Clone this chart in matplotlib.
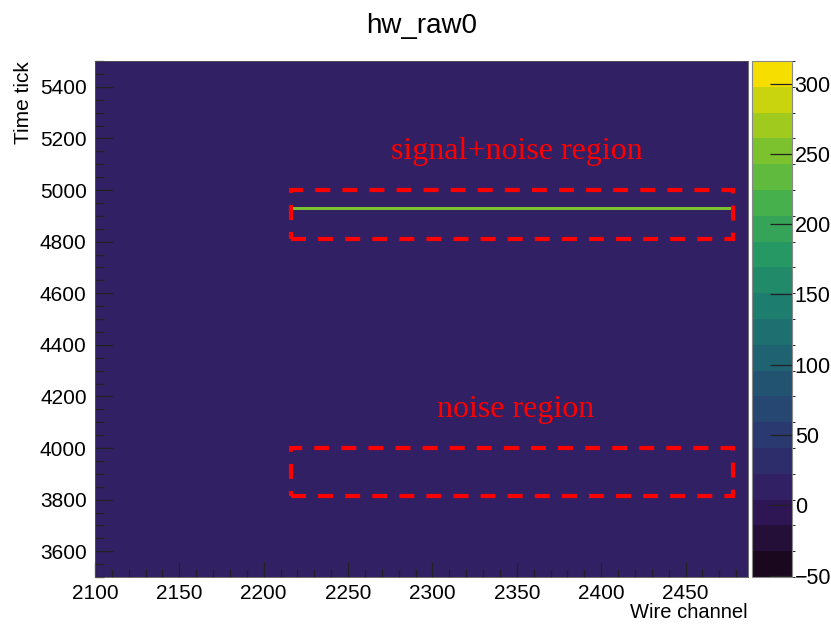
import numpy as np
import matplotlib
matplotlib.use('Agg')
from matplotlib import pyplot as plt
from matplotlib.colors import LinearSegmentedColormap, BoundaryNorm
from matplotlib.patches import Rectangle
from matplotlib.ticker import MultipleLocator

# histogram binning: one bin per wire, one bin per time tick
wire_lo, wire_hi = 2100, 2487
tick_lo, tick_hi = 3500, 5500

# pedestal-subtracted baseline and the signal track
baseline_adc = 10.0
signal_adc = 245.0
signal_wires = (2216, 2478)
signal_ticks = (4924, 4936)

# analysis windows (wire range, tick range)
sig_box = ((2216, 2478), (4810, 5000))
noise_box = ((2216, 2478), (3815, 4000))

z_min, z_max = -51.0, 316.0
n_levels = 20

# ROOT kViridis palette stops
root_r = [26, 51, 43, 33, 28, 35, 74, 144, 246]
root_g = [9, 24, 55, 87, 118, 150, 180, 200, 222]
root_b = [30, 96, 112, 114, 112, 101, 72, 35, 0]

plt.rcParams['font.family'] = ['Liberation Sans', 'DejaVu Sans']

cmap = LinearSegmentedColormap.from_list(
    'root_viridis',
    [(r / 255, g / 255, b / 255) for r, g, b in zip(root_r, root_g, root_b)])
levels = np.linspace(z_min, z_max, n_levels + 1)
norm = BoundaryNorm(levels, cmap.N)

wires = np.arange(wire_lo, wire_hi + 1)
ticks = np.arange(tick_lo, tick_hi + 1)
z = np.full((len(ticks) - 1, len(wires) - 1), baseline_adc)
rows = (ticks[:-1] >= signal_ticks[0]) & (ticks[:-1] < signal_ticks[1])
cols = (wires[:-1] >= signal_wires[0]) & (wires[:-1] < signal_wires[1])
z[np.ix_(rows, cols)] = signal_adc

fig = plt.figure(figsize=(8.31, 6.24), dpi=100)
ax = fig.add_axes([0.1143, 0.0753, 0.7858, 0.8269])
cax = fig.add_axes([0.905, 0.0753, 0.048, 0.8269])

mesh = ax.pcolormesh(wires, ticks, z, cmap=cmap, norm=norm, rasterized=True)
ax.set_xlim(wire_lo, wire_hi)
ax.set_ylim(tick_lo, tick_hi)

for (x0, x1), (y0, y1) in (sig_box, noise_box):
    ax.add_patch(Rectangle((x0, y0), x1 - x0, y1 - y0, fill=False,
                           edgecolor='#ff0000', linewidth=3.0,
                           linestyle=(0, (3.6, 2.9))))

ax.text(2350, 5150, 'signal+noise region', color='#ff0000', ha='center',
        va='center', fontsize=23, family=['Liberation Serif'])
ax.text(2349, 4148, 'noise region', color='#ff0000', ha='center',
        va='center', fontsize=23, family=['Liberation Serif'])

ax.xaxis.set_major_locator(MultipleLocator(50))
ax.xaxis.set_minor_locator(MultipleLocator(10))
ax.yaxis.set_major_locator(MultipleLocator(200))
ax.yaxis.set_minor_locator(MultipleLocator(50))
ax.tick_params(which='both', direction='in', top=False, right=False,
               labelsize=15, width=0.9, color='#222222')
ax.tick_params(axis='x', which='major', length=11, pad=5)
ax.tick_params(axis='x', which='minor', length=5.5)
ax.tick_params(axis='y', which='major', length=13, pad=6)
ax.tick_params(axis='y', which='minor', length=6.5)
for sp in ax.spines.values():
    sp.set_color('#555555')
    sp.set_linewidth(0.6)

ax.set_xlabel('Wire channel', fontsize=14.5, loc='right', labelpad=0)
ax.set_ylabel('Time tick', fontsize=15, loc='top', labelpad=5)
ax.set_title('hw_raw0', fontsize=20, pad=20)

cb = fig.colorbar(mesh, cax=cax, boundaries=levels, spacing='proportional')
cb.set_ticks([-50, 0, 50, 100, 150, 200, 250, 300])
cb.ax.tick_params(direction='in', length=16, labelsize=15.5, width=0.9,
                  pad=2, color='#222222')
cb.outline.set_edgecolor('#888888')
cb.outline.set_linewidth(0.8)

fig.savefig('out.png', dpi=100)
